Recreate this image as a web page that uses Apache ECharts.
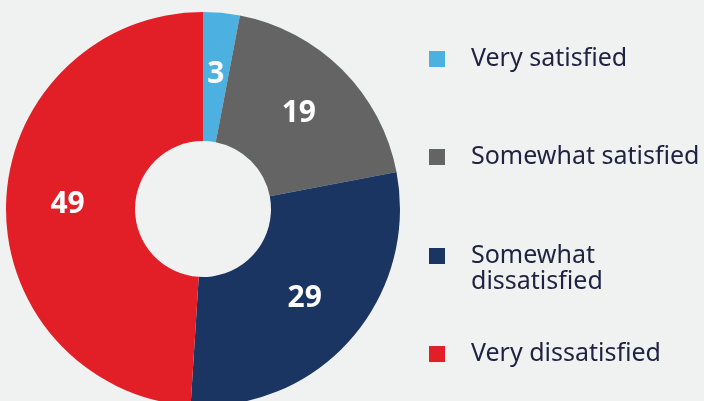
<!DOCTYPE html>
<html><head><meta charset="utf-8">
<script src="https://cdn.jsdelivr.net/npm/echarts@6/dist/echarts.min.js"></script>
<style>html,body{margin:0;padding:0;background:#f0f1f1}#c{width:704px;height:401px}</style>
</head><body><div id="c"></div>
<script>
const categories = ['Very satisfied', 'Somewhat satisfied', 'Somewhat dissatisfied', 'Very dissatisfied'];
const values = [3, 19, 29, 49];
const colors = ['#4cb0e0', '#646464', '#1b3562', '#e21f26'];
const legendLabels = ['Very satisfied', 'Somewhat satisfied', '\nSomewhat\ndissatisfied', 'Very dissatisfied'];

const legendTops = [46, 144, 217, 341];
const legends = categories.map((c, i) => ({
  data: [c],
  left: 429,
  top: legendTops[i],
  padding: 0,
  orient: 'vertical',
  icon: 'rect',
  itemWidth: 16,
  itemHeight: 16,
  selectedMode: false,
  formatter: () => legendLabels[i],
  textStyle: {
    fontFamily: 'Noto Sans',
    fontSize: 25,
    lineHeight: 26,
    color: '#1f2240',
    padding: [0, 0, 0, 21]
  }
}));

const chart = echarts.init(document.getElementById('c'));
chart.setOption({
  backgroundColor: '#f0f1f1',
  animation: false,
  legend: legends,
  series: [{
    type: 'pie',
    center: [203, 209],
    radius: [68, 197],
    startAngle: 90,
    clockwise: true,
    avoidLabelOverlap: false,
    itemStyle: { borderWidth: 0 },
    label: {
      show: true,
      position: 'inside',
      formatter: '{c}',
      color: '#ffffff',
      fontFamily: 'Noto Sans',
      fontWeight: 'bold',
      fontSize: 30
    },
    labelLine: { show: false },
    emphasis: { disabled: true },
    data: categories.map((c, i) => ({ name: c, value: values[i], itemStyle: { color: colors[i] } }))
  }]
});
</script></body></html>
